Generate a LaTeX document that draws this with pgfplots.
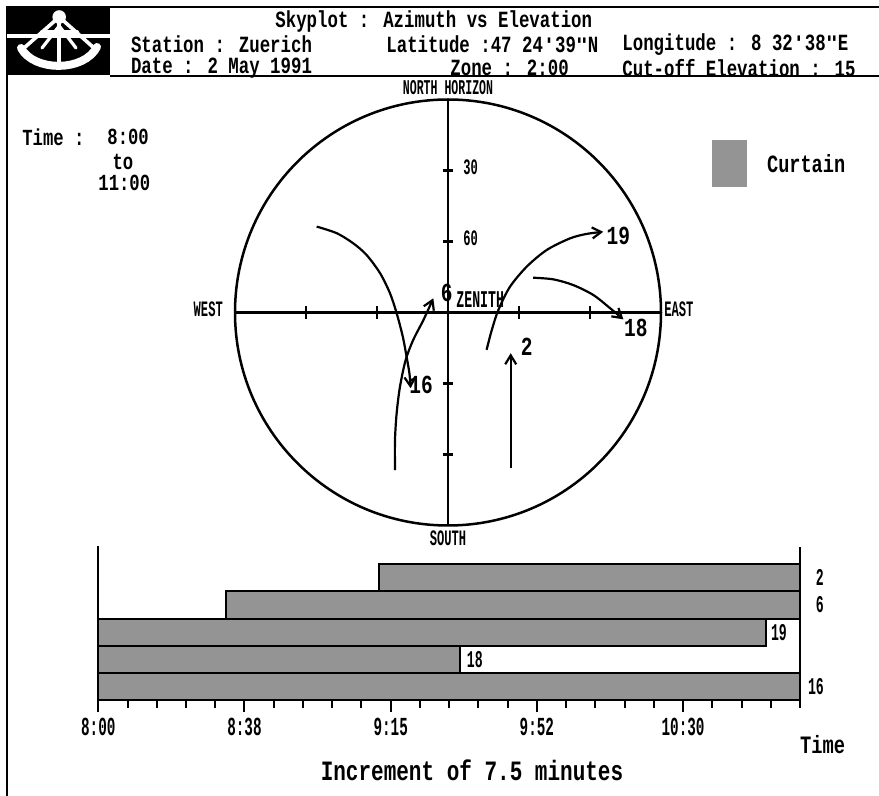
\documentclass[border=0pt]{standalone}
\usepackage{fontspec}
\setmainfont{Liberation Mono}
\newfontfamily\semi{Liberation Mono}[FakeStretch=0.75]
\newfontfamily\narrow{Liberation Mono}[FakeStretch=0.55]
\newfontfamily\qfont{DejaVu Sans Mono}[Ligatures=TeXOff]
\newcommand\squote{{\qfont\bfseries\fontsize{10}{10}\selectfont\symbol{39}}}
\newcommand\dquote{{\qfont\bfseries\fontsize{10}{10}\selectfont\symbol{34}}}
\usepackage{pgfplots}
\pgfplotsset{compat=1.18}
\usetikzlibrary{arrows.meta}
\newcommand\fs[1]{\fontsize{#1}{#1}\selectfont}
\tikzset{curtain/.style={fill=black!42}}
\begin{document}
\begin{tikzpicture}
\path[use as bounding box] (0,0) rectangle (439.5pt,-398pt);
% frame and logo
\fill[black] (3.35pt,-3.65pt) rectangle (55pt,-37.5pt);
\draw[line width=1pt] (3.35pt,-398pt) -- (3.35pt,-3.65pt) -- (439.5pt,-3.65pt);
\draw[line width=0.8pt] (55pt,-38pt) -- (439.5pt,-38pt);
\begin{scope}[white, line cap=round]
\draw[line width=2pt, line cap=butt] (3.35pt,-18pt) -- (55pt,-18pt);
\draw[line width=4pt] (10.5pt,-24pt) .. controls (17pt,-36pt) and (42pt,-36pt) .. (48.5pt,-23.5pt);
\draw[line width=1.8pt] (12pt,-24pt) -- (29.6pt,-8.5pt) -- (47pt,-24pt);
\draw[line width=1.8pt] (29.6pt,-8.5pt) -- (29.6pt,-33pt);
\draw[line width=1.6pt] (21pt,-24pt) -- (29.6pt,-13pt) -- (38pt,-24pt);
\draw[line width=2pt] (21pt,-16pt) -- (38.5pt,-16pt);
\fill (29.6pt,-8.5pt) circle (3.4pt);
\end{scope}
% header text
\begin{scope}[every node/.style={inner sep=0pt, anchor=west, font=\semi\bfseries\fs{11.6}}]
\node at (137.5pt,-11pt) {Skyplot : Azimuth vs Elevation};
\node at (65.3pt,-22.3pt) {Station : Zuerich};
\node at (193pt,-22.3pt) {Latitude :47 24\squote 39\dquote N};
\node at (311pt,-22.3pt) {Longitude :  8 32\squote 38\dquote E};
\node at (65.3pt,-34pt) {Date :  2 May 1991};
\node at (225pt,-34pt) {Zone :  2:00};
\node at (311pt,-34pt) {Cut-off Elevation : 15};
\end{scope}
\begin{scope}[every node/.style={inner sep=0pt, font=\semi\bfseries\fs{11.5}}]
\node[anchor=west] at (11pt,-68.5pt) {Time :};
\node[anchor=west] at (53.5pt,-68.5pt) {8:00};
\node at (61.5pt,-81pt) {to};
\node[anchor=west] at (49pt,-91.5pt) {11:00};
\node[anchor=west, font=\semi\bfseries\fs{12.4}] at (383.35pt,-81.65pt) {Curtain};
\end{scope}
\path[curtain] (355.85pt,-70pt) rectangle (373.35pt,-93.35pt);

% ---------------- skyplot ----------------
\begin{axis}[at={(224pt,-156.25pt)}, anchor=center,
  width=213pt, height=213pt, scale only axis,
  xmin=-90, xmax=90, ymin=-90, ymax=90,
  axis lines=none, clip=false]
\draw[line width=1.25pt] (axis cs:0,0) circle[radius=106.5pt];
\draw[line width=1.1pt] (axis cs:-90,0) -- (axis cs:90,0);
\draw[line width=1.1pt] (axis cs:0,-90) -- (axis cs:0,90);
\pgfplotsinvokeforeach{-60,-30,30,60}{
  \draw[line width=1.1pt] ([yshift=-3.25pt]axis cs:#1,0) -- ([yshift=3.25pt]axis cs:#1,0);
  \draw[line width=1.1pt] ([xshift=-2.6pt]axis cs:0,#1) -- ([xshift=2.6pt]axis cs:0,#1);
}
\begin{scope}[every node/.style={inner sep=0pt, font=\narrow\bfseries\fs{11}}]
\node[font=\narrow\bfseries\fs{10.5}] at (axis cs:0,95) {NORTH HORIZON};
\node at (axis cs:0,-95.5) {SOUTH};
\node at (axis cs:-101.3,1.5) {WEST};
\node at (axis cs:97.6,1.5) {EAST};
\node at (axis cs:9.6,61.4) {30};
\node at (axis cs:9.6,31.4) {60};
\node[anchor=west, font=\narrow\bfseries\fs{12}] at (axis cs:3.4,5.3) {ZENITH};
\end{scope}
\tikzset{trk/.style={line width=1.1pt, smooth, -{Straight Barb[length=4.5pt,width=5.5pt,line width=1.1pt]}}}
% satellite 16
\addplot[trk] coordinates {(-55.5,36.3) (-47.0,33.5) (-40.0,29.2) (-34.4,24.3) (-28.7,16.6) (-24.5,8.1) (-21.7,-0.3) (-19.1,-10.2) (-17.5,-18.7) (-16.3,-25.7) (-15.8,-32.0)};
% satellite 6
\addplot[trk] coordinates {(-22.4,-66.6) (-22.4,-53.9) (-21.7,-42.6) (-20.3,-31.4) (-17.9,-20.1) (-14.7,-11.6) (-10.4,-3.2) (-6.2,6.0)};
% satellite 19
\addplot[trk] coordinates {(16.3,-15.8) (18.5,-7.4) (21.3,1.1) (26.2,10.9) (33.3,19.4) (41.7,26.4) (51.5,31.3) (58.6,33.2) (65.6,34.1)};
% satellite 18
\addplot[trk] coordinates {(36.0,14.7) (44.5,14.0) (52.9,11.6) (61.4,7.4) (68.5,1.8) (74.1,-2.9)};
% satellite 2
\addplot[trk] coordinates {(26.5,-65.8) (26.5,-17.2)};
\begin{scope}[every node/.style={inner sep=0pt, font=\semi\bfseries\fs{13}}]
\node at (axis cs:-11.4,-30.6) {16};
\node at (axis cs:-0.55,8.1) {6};
\node at (axis cs:72.0,32.3) {19};
\node at (axis cs:79.4,-6.7) {18};
\node at (axis cs:33.3,-14.5) {2};
\end{scope}
\end{axis}

% ---------------- curtain bars ----------------
\begin{axis}[at={(49.15pt,-350pt)}, anchor=south west,
  width=350.85pt, height=77pt, scale only axis,
  xmin=0, xmax=180, ymin=-0.5, ymax=5.17,
  axis x line*=bottom, axis y line*=left, y axis line style={draw=none}, ytick=\empty,
  xtick={0,37.5,75,112.5,150},
  xticklabels={8:00,8:38,9:15,9:52,10:30},
  minor xtick={7.5,15,...,180},
  tick align=outside, major tick length=6pt, minor tick length=4pt,
  x axis line style={line width=1pt},
  every tick/.style={line width=1pt, black},
  xticklabel style={font=\narrow\bfseries\fs{13}, inner sep=0pt, yshift=-3pt},
  clip=false]
% satellite 16 (row 0): 8:00 - 11:00
\addplot[draw=black, line width=1pt, curtain] coordinates {(0,-0.5) (180,-0.5) (180,0.5) (0,0.5)} -- cycle;
% satellite 18 (row 1)
\addplot[draw=black, line width=1pt, curtain] coordinates {(0,0.5) (92.8,0.5) (92.8,1.5) (0,1.5)} -- cycle;
% satellite 19 (row 2)
\addplot[draw=black, line width=1pt, curtain] coordinates {(0,1.5) (171.3,1.5) (171.3,2.5) (0,2.5)} -- cycle;
% satellite 6 (row 3)
\addplot[draw=black, line width=1pt, curtain] coordinates {(32.7,2.5) (180,2.5) (180,3.5) (32.7,3.5)} -- cycle;
% satellite 2 (row 4)
\addplot[draw=black, line width=1pt, curtain] coordinates {(72,3.5) (180,3.5) (180,4.5) (72,4.5)} -- cycle;
\draw[line width=1pt] (axis cs:0,-0.5) -- (axis cs:0,5.17);
\draw[line width=1pt] (axis cs:180,-0.5) -- (axis cs:180,5.13);
\begin{scope}[every node/.style={inner sep=0pt, font=\narrow\bfseries\fs{12}}]
\node at (axis cs:185.1,4) {2};
\node at (axis cs:185.1,3) {6};
\node at (axis cs:174.6,2) {19};
\node at (axis cs:96.6,1) {18};
\node at (axis cs:184.1,0) {16};
\end{scope}
\end{axis}
\node[inner sep=0pt, font=\semi\bfseries\fs{12.5}] at (411.35pt,-372.5pt) {Time};
\node[inner sep=0pt, font=\semi\bfseries\fs{14}] at (236pt,-385pt) {Increment of  7.5 minutes};
\end{tikzpicture}
\end{document}
